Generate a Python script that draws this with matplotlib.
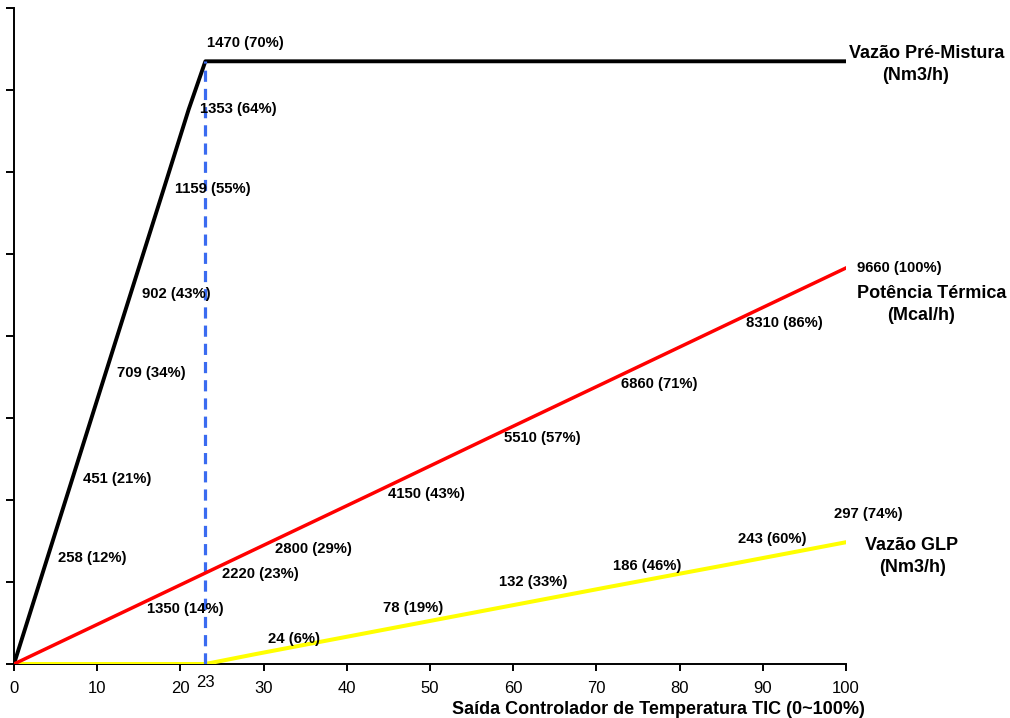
import matplotlib
matplotlib.use("Agg")
import matplotlib.pyplot as plt

# ── Data ──────────────────────────────────────────────────────────────
# Vazão Pré-Mistura (Nm3/h)
mix_x = [0, 4, 7, 11, 14, 18, 21, 23, 100]
mix_y = [0, 258, 451, 709, 902, 1159, 1353, 1470, 1470]
mix_lbl = ["258 (12%)", "451 (21%)", "709 (34%)", "902 (43%)",
           "1159 (55%)", "1353 (64%)", "1470 (70%)"]

# Potência Térmica (Mcal/h)
pot_x = [0, 14, 23, 29, 43, 57, 71, 86, 100]
pot_y = [0, 1350, 2220, 2800, 4150, 5510, 6860, 8310, 9660]
pot_lbl = ["1350 (14%)", "2220 (23%)", "2800 (29%)", "4150 (43%)",
           "5510 (57%)", "6860 (71%)", "8310 (86%)", "9660 (100%)"]

# Vazão GLP (Nm3/h)
glp_x = [0, 23, 29, 43, 57, 71, 86, 100]
glp_y = [0, 0, 24, 78, 132, 186, 243, 297]
glp_lbl = ["24 (6%)", "78 (19%)", "132 (33%)", "186 (46%)",
           "243 (60%)", "297 (74%)"]

x_ticks = list(range(0, 101, 10))
x_split = 23

# ── Style ─────────────────────────────────────────────────────────────
plt.rcParams.update({
    "font.family": "Liberation Sans",
    "font.size": 11,
    "axes.linewidth": 1.4,
})

# label offsets in points (dx, dy)
mix_off = [(8, 0)] * 6 + [(1.5, 13)]
pot_off = [(12, 0), (12, -1), (14, 0), (12, 0), (11, 0), (12, -1), (12, 0), (8, 0)]
glp_off = [(9, 11), (8, 17), (8, 20), (6, 16), (6, 18), (-9, 20)]

fig = plt.figure(figsize=(10.1, 7.18), dpi=100)
ax = fig.add_axes([14 / 1010, 1 - 664 / 718, (846 - 14) / 1010, (664 - 8) / 718])
ax2 = ax.twinx()

ax.set_xlim(0, 100)
ax.set_ylim(0, 1600)
ax2.set_ylim(0, 16000)
ax.set_yticks(range(0, 1601, 200))
ax.set_yticklabels([])
ax.set_xticks(x_ticks)
ax.tick_params(axis="y", direction="out", length=6, width=1.4)
ax.tick_params(axis="x", direction="out", length=5, width=1.4, labelsize=12, pad=7)
ax2.set_yticks([])
for s in ("top", "right"):
    ax.spines[s].set_visible(False)
for s in ("top", "right", "left", "bottom"):
    ax2.spines[s].set_visible(False)

ax.plot(glp_x, glp_y, color="#FFFF00", lw=2.9, solid_capstyle="round", zorder=3)
ax.plot(mix_x, mix_y, color="black", lw=2.8, zorder=4)
ax2.plot(pot_x, pot_y, color="#FF0000", lw=2.5, zorder=3)
ax.plot([x_split, x_split], [0, mix_y[mix_x.index(x_split)]], color="#3A6BF0",
        lw=2.3, dashes=(3.5, 2.2), zorder=5)

lbl_kw = dict(textcoords="offset points", fontsize=10.7, fontweight="bold",
              ha="left", va="center", zorder=6)
for x, y, t, o in zip(mix_x[1:8], mix_y[1:8], mix_lbl, mix_off):
    ax.annotate(t, (x, y), xytext=o, **lbl_kw)
for x, y, t, o in zip(pot_x[1:], pot_y[1:], pot_lbl, pot_off):
    ax2.annotate(t, (x, y), xytext=o, **lbl_kw)
for x, y, t, o in zip(glp_x[2:], glp_y[2:], glp_lbl, glp_off):
    ax.annotate(t, (x, y), xytext=o, **lbl_kw)

ax.annotate(str(x_split), (x_split, 0), xycoords=("data", "axes fraction"),
            xytext=(0, -13), textcoords="offset points", ha="center", va="center",
            fontsize=12)

# series names
name_kw = dict(fontsize=13, fontweight="bold", ha="center", va="center")
fig.text(927 / 1010, 1 - 54 / 718, "Vazão Pré-Mistura", **name_kw)
fig.text(916 / 1010, 1 - 75 / 718, "(Nm3/h)", **name_kw)
fig.text(932 / 1010, 1 - 294 / 718, "Potência Térmica", **name_kw)
fig.text(921 / 1010, 1 - 315 / 718, "(Mcal/h)", **name_kw)
fig.text(912 / 1010, 1 - 546 / 718, "Vazão GLP", **name_kw)
fig.text(913 / 1010, 1 - 568 / 718, "(Nm3/h)", **name_kw)

fig.text(865 / 1010, 1 - 709 / 718, "Saída Controlador de Temperatura TIC (0~100%)",
         fontsize=13, fontweight="bold", ha="right", va="center")

fig.savefig("out.png", dpi=100)
